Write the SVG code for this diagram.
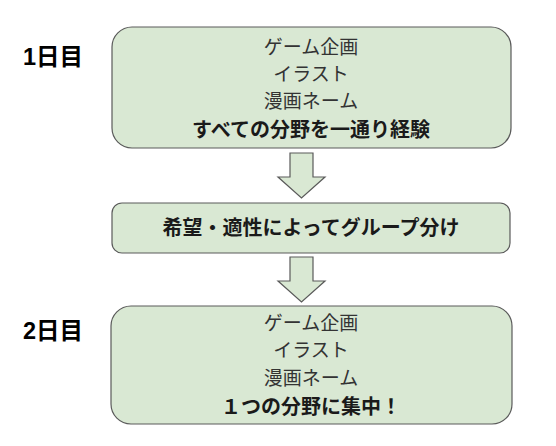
<svg xmlns="http://www.w3.org/2000/svg" width="556" height="446" viewBox="0 0 556 446">
<style>
.box{fill:#d9e8d3;stroke:#5a5a5a;stroke-width:1.2}
.arr{fill:#d9e8d3;stroke:#5a5a5a;stroke-width:1.2;stroke-linejoin:miter}
.t{font-family:"Noto Sans CJK JP","Liberation Sans",sans-serif;font-size:19px;fill:#333;text-anchor:middle}
.b{font-family:"Noto Sans CJK JP","Liberation Sans",sans-serif;font-size:20px;font-weight:bold;fill:#1a1a1a;text-anchor:middle}
.lab{font-family:"Liberation Sans","Noto Sans CJK JP",sans-serif;font-size:23.5px;font-weight:bold;fill:#000}
</style>
<rect width="556" height="446" fill="#ffffff"/>
<text class="lab" x="23" y="65">1日目</text>
<text class="lab" x="23" y="339">2日目</text>
<g id="day1">
<rect class="box" x="112" y="27" width="399" height="121" rx="20" ry="20"/>
<text class="t" x="311" y="53.5">ゲーム企画</text>
<text class="t" x="311" y="81">イラスト</text>
<text class="t" x="311" y="108">漫画ネーム</text>
<text class="b" x="311" y="137">すべての分野を一通り経験</text>
</g>
<g id="grouping">
<rect class="box" x="112" y="203" width="398" height="50" rx="10" ry="10"/>
<text class="b" x="311" y="235">希望・適性によってグループ分け</text>
</g>
<g id="day2">
<rect class="box" x="111" y="306" width="401" height="118" rx="20" ry="20"/>
<text class="t" x="311" y="330">ゲーム企画</text>
<text class="t" x="311" y="357">イラスト</text>
<text class="t" x="311" y="385">漫画ネーム</text>
<text class="b" x="311" y="414">１つの分野に集中！</text>
</g>
<g id="connectors">
<polygon class="arr" points="290,153 313,153 313,177 325,177 301.5,198 278,177 290,177"/>
<polygon class="arr" points="290,257 313,257 313,281 325,281 301.5,302 278,281 290,281"/>
</g>
</svg>
